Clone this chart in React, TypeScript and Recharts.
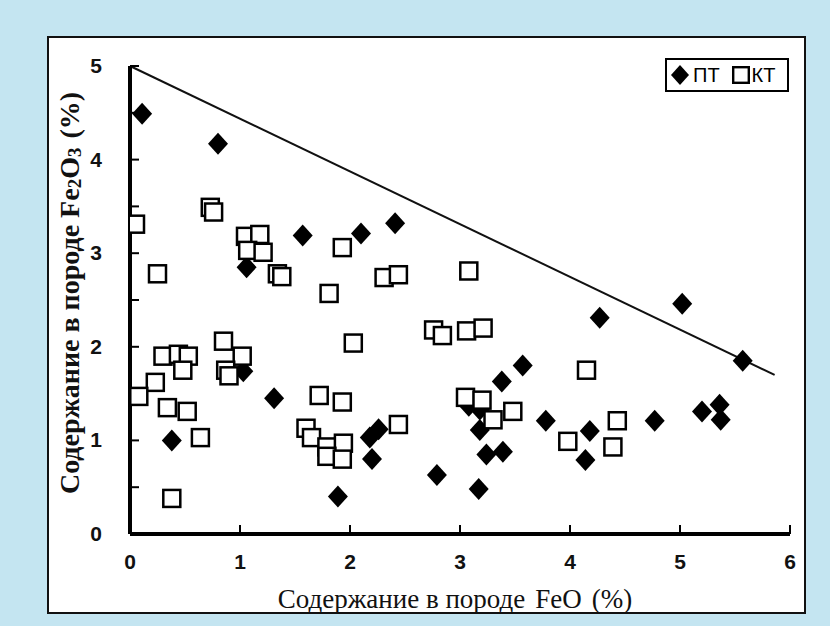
import React from 'react';
import {
  ReferenceLine,
  Scatter,
  ScatterChart,
  XAxis,
  YAxis,
} from 'recharts';

// ПТ (black diamonds)
const ptFeO = [
  0.11, 0.8, 1.06, 1.03, 1.31, 0.38, 1.57, 2.1, 2.41, 2.18, 2.26, 2.2, 1.89, 2.79, 3.17, 4.27,
  5.02, 5.57, 3.57, 3.38, 3.08, 3.18, 3.18, 3.24, 3.39, 3.78, 4.18, 4.14, 4.77, 5.2, 5.36, 5.37,
];
const ptFe2O3 = [
  4.49, 4.17, 2.85, 1.74, 1.45, 1.0, 3.19, 3.21, 3.32, 1.03, 1.12, 0.8, 0.4, 0.63, 0.48, 2.31,
  2.46, 1.85, 1.8, 1.63, 1.37, 1.33, 1.11, 0.85, 0.88, 1.21, 1.1, 0.79, 1.21, 1.31, 1.38, 1.22,
];

// КТ (open squares)
const ktFeO = [
  0.05, 0.73, 0.76, 1.05, 1.18, 1.07, 1.21, 0.25, 1.34, 1.38, 0.3, 0.44, 0.53, 0.48, 0.23, 0.08,
  0.34, 0.52, 0.64, 0.38, 0.85, 1.02, 0.87, 0.9, 1.93, 1.81, 2.31, 2.44, 3.08, 2.03, 2.76, 2.84,
  3.06, 3.21, 1.72, 1.93, 1.6, 1.65, 1.79, 1.94, 1.79, 1.93, 2.44, 4.15, 3.05, 3.2, 3.3, 3.48,
  3.98, 4.43, 4.39,
];
const ktFe2O3 = [
  3.31, 3.49, 3.44, 3.18, 3.2, 3.03, 3.01, 2.78, 2.78, 2.75, 1.9, 1.92, 1.9, 1.75, 1.62, 1.47,
  1.35, 1.31, 1.03, 0.38, 2.06, 1.9, 1.75, 1.69, 3.06, 2.57, 2.74, 2.77, 2.81, 2.04, 2.18, 2.12,
  2.17, 2.2, 1.48, 1.41, 1.13, 1.03, 0.93, 0.97, 0.83, 0.8, 1.17, 1.75, 1.46, 1.43, 1.22, 1.31,
  0.99, 1.21, 0.93,
];

// boundary line
const lineFeO = [0, 5.86];
const lineFe2O3 = [5, 1.7];

const xTicks = [0, 1, 2, 3, 4, 5, 6];
const yTicks = [0, 0.5, 1, 1.5, 2, 2.5, 3, 3.5, 4, 4.5, 5];

const ptData = ptFeO.map((x, i) => ({ x, y: ptFe2O3[i] }));
const ktData = ktFeO.map((x, i) => ({ x, y: ktFe2O3[i] }));

const TICK_FONT = 'Liberation Sans, Arial, sans-serif';

function XTick(props: any) {
  const { x, y, payload } = props;
  return (
    <text x={x} y={y} dy={17} textAnchor="middle" fontFamily={TICK_FONT} fontWeight={700} fontSize={21} fill="#111">
      {payload.value}
    </text>
  );
}

function YTick(props: any) {
  const { x, y, payload } = props;
  if (!Number.isInteger(payload.value)) return null;
  return (
    <text x={x} y={y} dy={7} textAnchor="end" fontFamily={TICK_FONT} fontWeight={700} fontSize={21} fill="#111">
      {payload.value}
    </text>
  );
}

function Diamond(props: any) {
  const { cx, cy } = props;
  if (cx == null || cy == null) return null;
  return <path d={`M${cx},${cy - 11} L${cx + 10},${cy} L${cx},${cy + 11} L${cx - 10},${cy} Z`} fill="#000" />;
}

function Square(props: any) {
  const { cx, cy } = props;
  if (cx == null || cy == null) return null;
  return <rect x={cx - 8.5} y={cy - 8.5} width={17} height={17} fill="#fff" stroke="#000" strokeWidth={2.5} />;
}

function LegendBox() {
  return (
    <div
      style={{
        position: 'absolute',
        left: 665,
        top: 58,
        boxSizing: 'border-box',
        width: 124,
        height: 34,
        border: '2px solid #000',
        background: '#fff',
        display: 'flex',
        alignItems: 'center',
        paddingLeft: 3,
        fontFamily: TICK_FONT,
        fontSize: 20,
        color: '#000',
      }}
    >
      <svg width={20} height={22} style={{ display: 'block' }}>
        <path d="M10,1 L19,11 L10,21 L1,11 Z" fill="#000" />
      </svg>
      <span style={{ marginLeft: 3 }}>ПТ</span>
      <svg width={18} height={18} style={{ display: 'block', marginLeft: 12 }}>
        <rect x={1.2} y={1.2} width={15.6} height={15.6} fill="#fff" stroke="#000" strokeWidth={2.4} />
      </svg>
      <span style={{ marginLeft: 2 }}>КТ</span>
    </div>
  );
}

function YTitle() {
  const cx = 69;
  const cy = 293;
  return (
    <text
      x={cx}
      y={cy}
      transform={`rotate(-90 ${cx} ${cy})`}
      textAnchor="middle"
      dominantBaseline="central"
      fontFamily="Liberation Serif, Times New Roman, serif"
      fontWeight={700}
      fontSize={28}
      fill="#111"
    >
      Содержание в породе Fe
      <tspan fontSize={19} dy={5}>2</tspan>
      <tspan dy={-5}>O</tspan>
      <tspan fontSize={19} dy={5}>3</tspan>
      <tspan dy={-5} dx={9}>(%)</tspan>
    </text>
  );
}

function XTitle() {
  return (
    <text
      x={455}
      y={608}
      textAnchor="middle"
      fontFamily="Liberation Serif, Times New Roman, serif"
      fontSize={27}
      fill="#111"
    >
      Содержание в породе
      <tspan dx={10}>FeO</tspan>
      <tspan dx={10}>(%)</tspan>
    </text>
  );
}

export default function App() {
  return (
    <div style={{ position: 'relative', width: 830, height: 626, background: '#c4e5f1', overflow: 'hidden' }}>
      <style>{'body{margin:0}'}</style>
      <div
        style={{
          position: 'absolute',
          left: 47,
          top: 36,
          width: 759,
          height: 578,
          boxSizing: 'border-box',
          border: '2px solid #111',
          background: '#fff',
        }}
      />
      <div style={{ position: 'absolute', left: 0, top: 0 }}>
        <ScatterChart width={830} height={626} margin={{ top: 66, right: 40, bottom: 52, left: 70 }}>
          <XAxis
            type="number"
            dataKey="x"
            domain={[0, 6]}
            ticks={xTicks}
            interval={0}
            height={40}
            allowDataOverflow
            axisLine={{ stroke: '#000', strokeWidth: 4 }}
            tickLine={{ stroke: '#000', strokeWidth: 2 }}
            tickSize={-9}
            tickMargin={27}
            tick={XTick}
          />
          <YAxis
            type="number"
            dataKey="y"
            domain={[0, 5]}
            ticks={yTicks}
            interval={0}
            width={60}
            allowDataOverflow
            axisLine={{ stroke: '#000', strokeWidth: 4 }}
            tickLine={{ stroke: '#000', strokeWidth: 2 }}
            tickSize={-9}
            tickMargin={37}
            tick={YTick}
          />
          <ReferenceLine
            segment={[
              { x: lineFeO[0], y: lineFe2O3[0] },
              { x: lineFeO[1], y: lineFe2O3[1] },
            ]}
            stroke="#111"
            strokeWidth={2}
            ifOverflow="visible"
          />
          <Scatter name="ПТ" data={ptData} shape={Diamond} isAnimationActive={false} />
          <Scatter name="КТ" data={ktData} shape={Square} isAnimationActive={false} />
          <YTitle />
          <XTitle />
        </ScatterChart>
      </div>
      <LegendBox />
    </div>
  );
}
